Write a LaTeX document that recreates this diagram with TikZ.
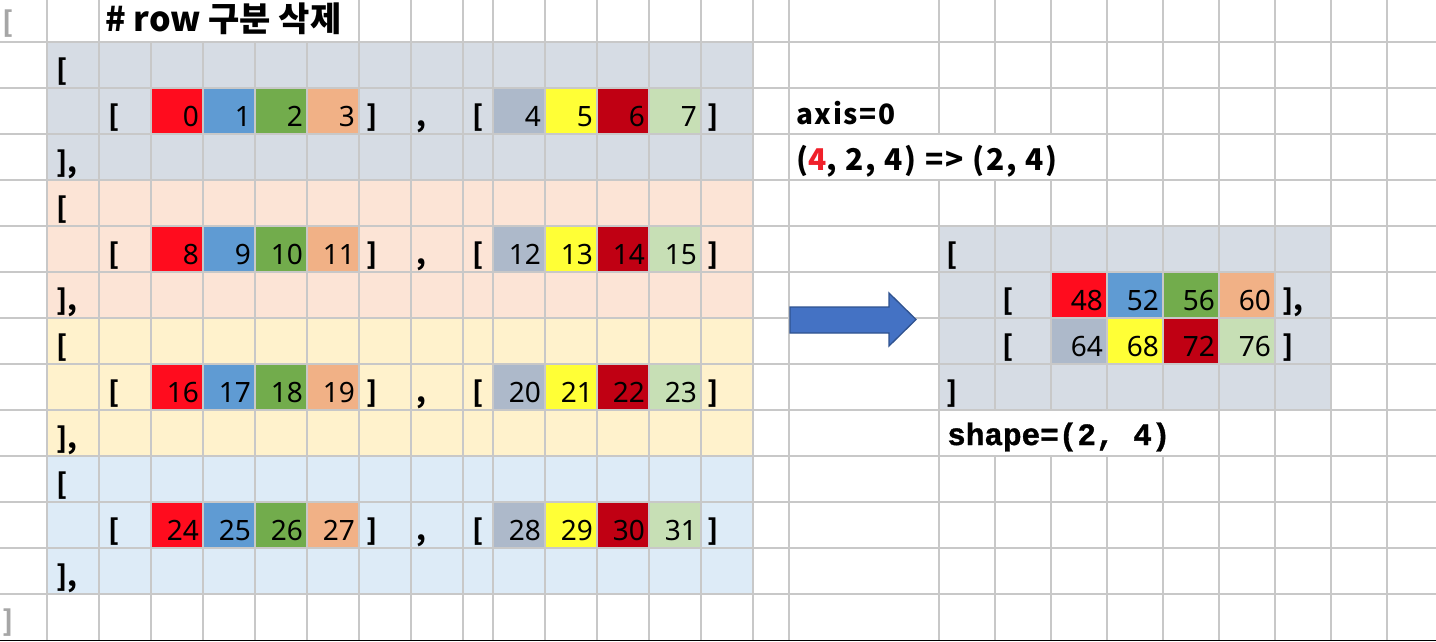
\documentclass[tikz,border=0pt]{standalone}
\usepackage{fontspec}
\setmainfont{Noto Sans}
\newfontfamily\kofont{Noto Sans CJK KR}
\newfontfamily\kowide{Noto Sans CJK KR}[LetterSpace=6]
\newfontfamily\courbold{Liberation Mono Bold}[FakeBold=1.2]
\definecolor{gridc}{HTML}{C8C8C8}
\definecolor{bgA}{HTML}{D6DCE4}
\definecolor{bgB}{HTML}{FCE4D6}
\definecolor{bgC}{HTML}{FFF2CC}
\definecolor{bgD}{HTML}{DDEBF7}
\definecolor{cRed}{HTML}{FF0C1E}
\definecolor{cBlue}{HTML}{5F9BD3}
\definecolor{cGreen}{HTML}{72AC4C}
\definecolor{cOrange}{HTML}{F1B186}
\definecolor{cGray}{HTML}{ADB9CA}
\definecolor{cYellow}{HTML}{FFFF36}
\definecolor{cDark}{HTML}{C00013}
\definecolor{cLight}{HTML}{C7DFB5}
\definecolor{arrowFill}{HTML}{4472C4}
\definecolor{arrowLine}{HTML}{2F528F}
\definecolor{bracketGray}{HTML}{A6A6A6}
\definecolor{axisRed}{HTML}{F0202A}
\begin{document}
\begin{tikzpicture}[x=1pt,y=-1pt,
  gridline/.style={draw=gridc,line width=1.3pt},
  numtxt/.style={anchor=base east,inner sep=0pt,font=\fontsize{28}{32}\selectfont},
  brktxt/.style={anchor=base west,inner sep=0pt,font=\kofont\bfseries\fontsize{28}{32}\selectfont},
  labtxt/.style={anchor=base west,inner sep=0pt,font=\kowide\bfseries\fontsize{30}{34}\selectfont},
]
\useasboundingbox (0,0) rectangle (1436,641);
\fill[white] (0,0) rectangle (1436,641);
% left blocks
\foreach \b/\bg in {0/bgA,1/bgB,2/bgC,3/bgD}{
  \pgfmathsetmacro{\T}{42+138*\b}
  \fill[\bg] (47,\T) rectangle (753,\T+138);
  \foreach \x/\c in {151/cRed,203/cBlue,255/cGreen,307/cOrange,493/cGray,545/cYellow,597/cDark,649/cLight}{
    \fill[\c] (\x,\T+46) rectangle (\x+52,\T+92);
  }
}
% right block
\fill[bgA] (939,226) rectangle (1331,410);
\foreach \x/\c in {1051/cRed,1107/cBlue,1163/cGreen,1219/cOrange}{
  \fill[\c] (\x,272) rectangle (\x+56,318);
}
\foreach \x/\c in {1051/cGray,1107/cYellow,1163/cDark,1219/cLight}{
  \fill[\c] (\x,318) rectangle (\x+56,364);
}
% grid
\foreach \x in {47,99,359,411,463,493,545,597,649,701,753,789,1219,1275,1331,1387}
  \draw[gridline] (\x,0) -- (\x,641);
\foreach \x in {151,203,255,307}
  \draw[gridline] (\x,42) -- (\x,641);
\draw[gridline] (939,0) -- (939,134) (939,180) -- (939,641);
\foreach \x in {995,1051}
  \draw[gridline] (\x,0) -- (\x,134) (\x,180) -- (\x,410) (\x,456) -- (\x,641);
\foreach \x in {1107,1163}
  \draw[gridline] (\x,0) -- (\x,410) (\x,456) -- (\x,641);
\foreach \y in {42,88,...,594}
  \draw[gridline] (0,\y) -- (1436,\y);
\draw[black,line width=1pt] (0,640.5) -- (1436,640.5);
% title and outer brackets
\node[anchor=base west,inner sep=0pt,font=\kofont\bfseries\fontsize{34}{38}\selectfont] (title) at (105,31) {\# row 구분 삭제};
\node[brktxt,text=bracketGray] (obl) at (2,32) {[};
\node[brktxt,text=bracketGray] (obr) at (2,631) {]};
% left block texts
\foreach \b in {0,1,2,3}{
  \pgfmathsetmacro{\T}{42+138*\b}
  \node[brktxt] (ob\b) at (56,\T+38) {[};
  \node[brktxt] (ib\b) at (108,\T+84) {[};
  \node[brktxt] (cb\b) at (366,\T+84) {]};
  \node[brktxt] (cm\b) at (416,\T+84) {,};
  \node[brktxt] (jb\b) at (472,\T+84) {[};
  \node[brktxt] (db\b) at (707,\T+84) {]};
  \node[brktxt] (ce\b) at (56,\T+130) {],};
  \foreach \x [count=\i from 0] in {151,203,255,307,493,545,597,649}{
    \pgfmathtruncatemacro{\v}{8*\b+\i}
    \node[numtxt] (v\b-\i) at (\x+48,\T+84) {\v};
  }
}
% right texts
\node[labtxt,font=\kowide\bfseries\fontsize{28}{32}\selectfont] (axis) at (796,124) {axis=0};
\node[labtxt] (shp) at (796,170) {(\textcolor{axisRed}{4}, 2, 4) => (2, 4)};
\node[brktxt] (rb1) at (946,264) {[};
\node[brktxt] (rb2) at (1002,310) {[};
\node[brktxt] (rb3) at (1002,356) {[};
\node[brktxt] (rb4) at (1282,310) {],};
\node[brktxt] (rb5) at (1282,356) {]};
\node[brktxt] (rb6) at (946,402) {]};
\foreach \x/\v in {1051/48,1107/52,1163/56,1219/60}
  \node[numtxt] (r\v) at (\x+52,310) {\v};
\foreach \x/\v in {1051/64,1107/68,1163/72,1219/76}
  \node[numtxt] (r\v) at (\x+52,356) {\v};
\node[anchor=base west,inner sep=0pt,font=\courbold\fontsize{31}{34}\selectfont] (shape) at (947,445) {shape=(2, 4)};
% block arrow
\filldraw[fill=arrowFill,draw=arrowLine,line width=1.3pt]
  (790,307) -- (889,307) -- (889,293) -- (916,319.5) -- (889,346) -- (889,333) -- (790,333) -- cycle;
\end{tikzpicture}
\end{document}
